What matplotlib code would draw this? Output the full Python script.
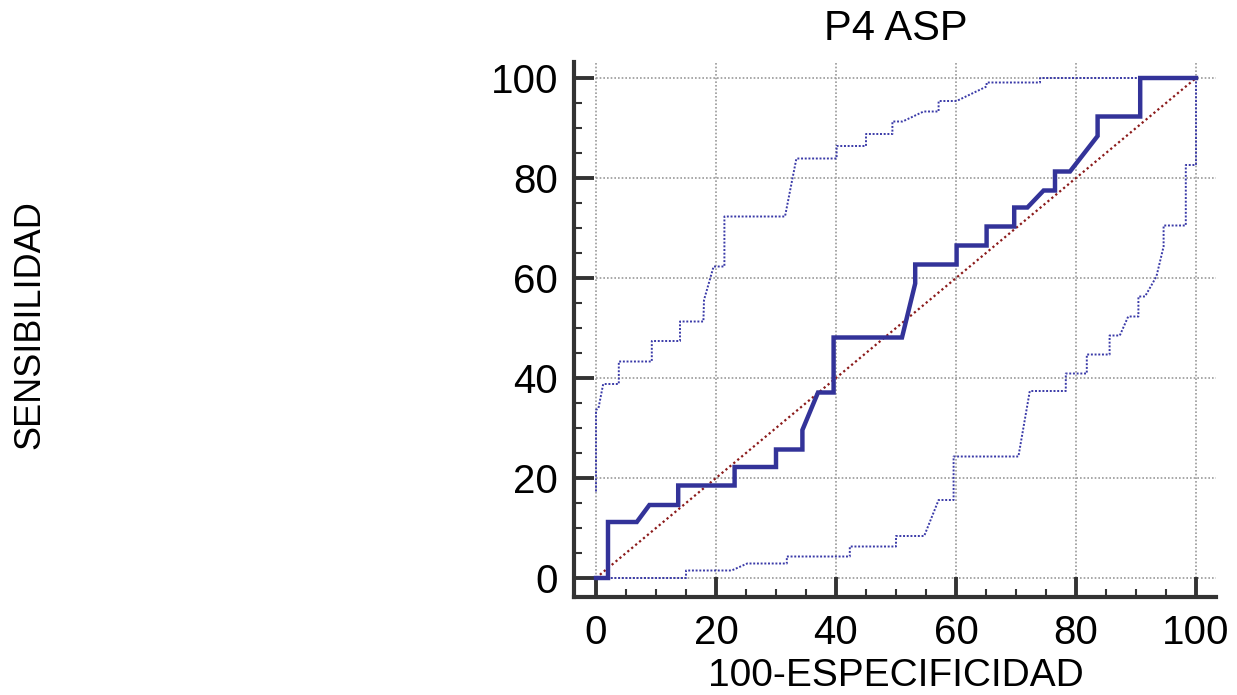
import matplotlib
matplotlib.use("Agg")
import matplotlib.pyplot as plt
from matplotlib.ticker import MultipleLocator

# ---- data ----
title_text = "P4 ASP"
x_label = "100-ESPECIFICIDAD"
y_label = "SENSIBILIDAD"
major_ticks = [0, 20, 40, 60, 80, 100]

roc_x = [0, 2.0, 2.0, 6.8, 8.9, 13.7, 13.7, 23.1, 23.1, 30.0, 30.0, 34.4, 34.4, 37.0, 39.6, 39.6,
         51.0, 53.2, 53.2, 60.1, 60.1, 65.1, 65.1, 69.7, 69.7, 71.9, 74.6, 76.5, 76.5, 79.0, 83.6,
         83.6, 90.7, 90.7, 100]
roc_y = [0, 0, 11.2, 11.2, 14.6, 14.6, 18.5, 18.5, 22.2, 22.2, 25.7, 25.7, 29.6, 37.1, 37.1, 48.1,
         48.1, 58.9, 62.7, 62.7, 66.5, 66.5, 70.3, 70.3, 74.1, 74.1, 77.5, 77.5, 81.3, 81.3, 88.4,
         92.3, 92.3, 100, 100]

upper_x = [0, 0, 0.4, 1.2, 3.8, 3.8, 9.3, 9.3, 14.0, 14.0, 17.9, 18.0, 19.6, 21.4, 21.4, 31.5, 33.4,
           40.1, 40.1, 45.0, 45.0, 49.4, 49.4, 51.1, 54.6, 57.1, 57.1, 60.1, 65.1, 65.1, 74.0, 74.0, 100]
upper_y = [17.3, 33.6, 33.9, 38.8, 38.8, 43.3, 43.3, 47.4, 47.4, 51.3, 51.3, 55.6, 62.3, 62.3, 72.3,
           72.3, 83.9, 83.9, 86.4, 86.4, 88.8, 88.8, 91.3, 91.3, 93.3, 93.3, 95.4, 95.4, 98.3, 99.1,
           99.1, 100, 100]

lower_x = [0, 15.0, 15.0, 22.6, 25.2, 31.8, 31.8, 42.3, 42.3, 50.0, 50.0, 54.7, 57.1, 59.6, 59.6, 70.4,
           72.3, 78.3, 78.3, 81.8, 81.8, 85.6, 85.6, 87.3, 88.7, 90.4, 90.4, 91.5, 93.4, 94.6, 94.6,
           98.3, 98.3, 100, 100]
lower_y = [0, 0, 1.5, 1.5, 2.9, 2.9, 4.3, 4.3, 6.3, 6.3, 8.4, 8.4, 15.6, 15.6, 24.3, 24.3, 37.4, 37.4,
           40.9, 40.9, 44.7, 44.7, 48.5, 48.5, 52.3, 52.3, 56.3, 56.3, 60.3, 66.3, 70.5, 70.5, 82.6,
           82.6, 100]

diag_x = [0, 100]
diag_y = [0, 100]

# ---- figure ----
plt.rcParams['font.family'] = ['Liberation Sans', 'DejaVu Sans']
W, H = 1237, 695
fig = plt.figure(figsize=(W / 100, H / 100), dpi=100)
left_px, right_px, bottom_px, top_px = 574, 1216, 597, 62
ax = fig.add_axes([left_px / W, 1 - bottom_px / H, (right_px - left_px) / W, (bottom_px - top_px) / H])

ppx = 6.0   # pixels per x unit
ppy = 5.0   # pixels per y unit
x0_px, y0_px = 596, 578
ax.set_xlim(-(x0_px - left_px) / ppx, (right_px - x0_px) / ppx)
ax.set_ylim(-(bottom_px - y0_px) / ppy, (y0_px - top_px) / ppy)
xmax = ax.get_xlim()[1]
ymax = ax.get_ylim()[1]

spine_c = '#333333'
for s in ['top', 'right']:
    ax.spines[s].set_visible(False)
for s in ['left', 'bottom']:
    ax.spines[s].set_color(spine_c)
    ax.spines[s].set_linewidth(3.0)

ax.set_xticks(major_ticks)
ax.set_yticks(major_ticks)
ax.xaxis.set_minor_locator(MultipleLocator(5))
ax.yaxis.set_minor_locator(MultipleLocator(5))
ax.tick_params(which='major', direction='in', length=14.5, width=2.8, color=spine_c,
               labelsize=29)
ax.tick_params(axis='x', which='major', pad=12)
ax.tick_params(axis='y', which='major', pad=11.5)
ax.tick_params(which='minor', direction='in', length=5.5, width=1.5, color=spine_c)

# grid lines (from 0 to the edges)
grid_kw = dict(color='#9a9a9a', linestyle=(0, (1, 1.2)), linewidth=1.2, zorder=1)
ax.hlines(major_ticks, 0, xmax, **grid_kw)
ax.vlines(major_ticks, 0, ymax, **grid_kw)

blue = '#333399'
ax.plot(diag_x, diag_y, color='#8b1a1a', linestyle=(0, (1, 1.3)), linewidth=1.6, zorder=3)
ax.plot(upper_x, upper_y, color='#3a3aa8', linestyle=(0, (1, 0.9)), linewidth=1.4, zorder=3,
        clip_on=False)
ax.plot(lower_x, lower_y, color='#3a3aa8', linestyle=(0, (1, 0.9)), linewidth=1.4, zorder=3,
        clip_on=False)
ax.plot(roc_x, roc_y, color=blue, linewidth=3.2, solid_joinstyle='miter', zorder=4, clip_on=False)

# texts
ax.text(50, (y0_px - 29) / ppy, title_text, ha='center', va='center', fontsize=30)
ax.text(50, -(686 - y0_px) / ppy, x_label, ha='center', va='baseline', fontsize=28)
ax.text(-(x0_px - 30) / ppx, (y0_px - 325) / ppy, y_label, ha='center', va='center',
        rotation=90, fontsize=26)

fig.savefig('out.png', dpi=100)
